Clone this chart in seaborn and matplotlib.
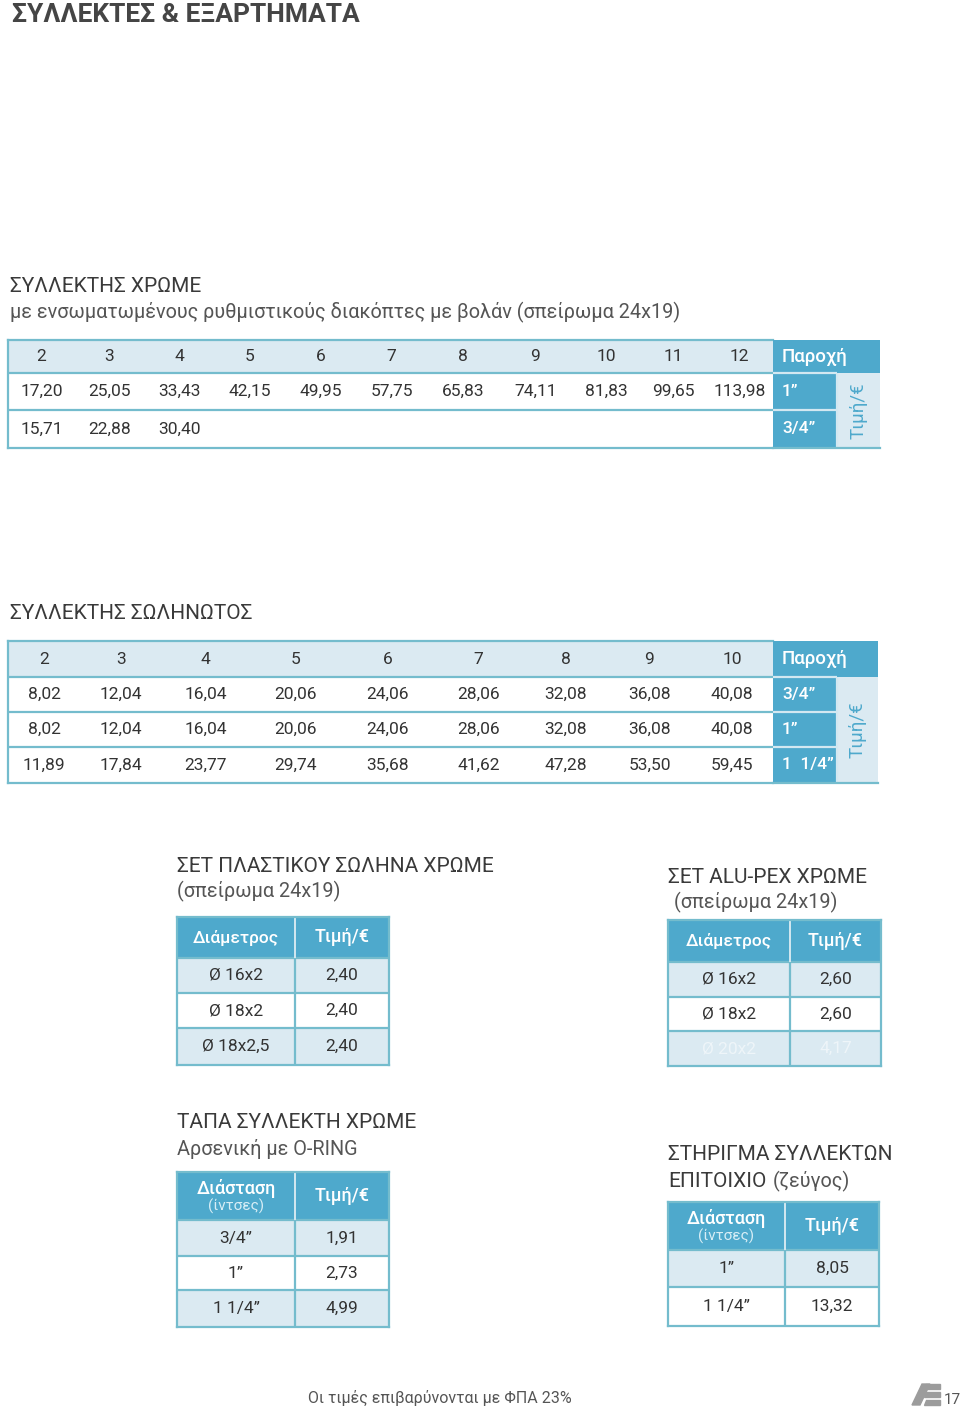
import numpy as np
import matplotlib
matplotlib.use("Agg")
import matplotlib.pyplot as plt
from matplotlib.colors import ListedColormap
from matplotlib.patches import Polygon
import seaborn as sns

# ---- values ----
chrome_ways = ["2", "3", "4", "5", "6", "7", "8", "9", "10", "11", "12"]
chrome_sizes = ["1”", "3/4”"]
chrome_price_1 = [17.20, 25.05, 33.43, 42.15, 49.95, 57.75, 65.83, 74.11, 81.83, 99.65, 113.98]
chrome_price_34 = [15.71, 22.88, 30.40]

solid_ways = ["2", "3", "4", "5", "6", "7", "8", "9", "10"]
solid_sizes = ["3/4”", "1”", "1  1/4”"]
solid_price_34 = [8.02, 12.04, 16.04, 20.06, 24.06, 28.06, 32.08, 36.08, 40.08]
solid_price_1 = [8.02, 12.04, 16.04, 20.06, 24.06, 28.06, 32.08, 36.08, 40.08]
solid_price_114 = [11.89, 17.84, 23.77, 29.74, 35.68, 41.62, 47.28, 53.50, 59.45]

plastic_diam = ["Ø 16x2", "Ø 18x2", "Ø 18x2,5"]
plastic_price = [2.40, 2.40, 2.40]

alupex_diam = ["Ø 16x2", "Ø 18x2", "Ø 20x2"]
alupex_price = [2.60, 2.60, 4.17]

cap_size = ["3/4”", "1”", "1 1/4”"]
cap_price = [1.91, 2.73, 4.99]

bracket_size = ["1”", "1 1/4”"]
bracket_price = [8.05, 13.32]

# ---- page look ----
W, H = 960, 1407
TEAL = "#74bccd"
BLUE = "#4ea9cc"
LIGHT = "#dbeaf2"
SEP = "#d3e8f1"
INK = "#333333"
TITLE = "#3a3a3a"
SUB = "#555555"
BODY = 12.5
cell_cmap = ListedColormap(["#ffffff", LIGHT, BLUE])

sns.set_style("white")
plt.rcParams["font.family"] = ["Roboto", "DejaVu Sans"]

fig = plt.figure(figsize=(W / 100, H / 100), dpi=100)

page = fig.add_axes([0, 0, 1, 1], zorder=-1)
page.set_xlim(0, W)
page.set_ylim(H, 0)
page.axis("off")


def euro(v):
    return f"{v:.2f}".replace(".", ",")


def table_ax(left, top, width, height):
    return fig.add_axes([left / W, 1 - (top + height) / H, width / W, height / H])


def paint(ax, codes, col_units, row_units):
    # cells drawn as a heatmap of colour codes (0 white, 1 light, 2 blue)
    grid = np.repeat(np.repeat(np.array(codes), row_units, axis=0), col_units, axis=1)
    sns.heatmap(grid, ax=ax, cmap=cell_cmap, vmin=-0.5, vmax=2.5, cbar=False,
                xticklabels=False, yticklabels=False)
    xs = np.concatenate([[0], np.cumsum(col_units)])
    ys = np.concatenate([[0], np.cumsum(row_units)])
    return xs, ys


def frame(ax, sides=("left", "right", "top", "bottom")):
    for name, sp in ax.spines.items():
        sp.set_visible(name in sides)
        sp.set_color(TEAL)
        sp.set_linewidth(1.6)


def price_grid(left, top, col_px, row_px, ways, price_rows):
    ax = table_ax(left, top, sum(col_px), sum(row_px))
    n = len(ways)
    codes = [[1] * n] + [[0] * n for _ in price_rows]
    xs, ys = paint(ax, codes, col_px, row_px)
    rows = [ways] + [[euro(v) for v in r] for r in price_rows]
    for i, row in enumerate(rows):
        yc = (ys[i] + ys[i + 1]) / 2
        for j, s in enumerate(row):
            ax.text((xs[j] + xs[j + 1]) / 2, yc, s, ha="center", va="center",
                    fontsize=BODY, color=INK)
    ax.hlines(ys[1:-1], 0, xs[-1], color=TEAL, lw=1.6)
    frame(ax, ("left", "top", "bottom"))


def supply_block(left, top, col_px, row_px, sizes):
    ax = table_ax(left, top, sum(col_px), sum(row_px))
    codes = [[2, 2]] + [[2, 1] for _ in sizes]
    xs, ys = paint(ax, codes, col_px, row_px)
    ax.hlines(ys[1:-1], 0, xs[1], color=SEP, lw=1.6)
    ax.vlines(xs[1], ys[1], ys[-1], color=SEP, lw=1.6)
    ax.text(9, ys[1] / 2, "Παροχή", ha="left", va="center", fontsize=13.5,
            color="white", fontweight="medium")
    for i, s in enumerate(sizes):
        ax.text(9, (ys[i + 1] + ys[i + 2]) / 2, s, ha="left", va="center", fontsize=12.5,
                color="white", fontweight="medium")
    ax.text((xs[1] + xs[2]) / 2, (ys[1] + ys[-1]) / 2, "Τιμή/€", rotation=90,
            ha="center", va="center", fontsize=13.5, color=BLUE)
    frame(ax, ("bottom",))


def small_table(left, top, col_px, row_px, head, sub, items, prices, faded_last=False):
    ax = table_ax(left, top, sum(col_px), sum(row_px))
    codes = [[2, 2]] + [[1, 1] if i % 2 == 0 else [0, 0] for i in range(len(items))]
    xs, ys = paint(ax, codes, col_px, row_px)
    ax.hlines(ys[1:-1], 0, xs[-1], color=TEAL, lw=1.6)
    ax.vlines(xs[1], ys[1], ys[-1], color=TEAL, lw=1.6)
    ax.vlines(xs[1], 0, ys[1], color=SEP, lw=1.4)
    cx = [(xs[0] + xs[1]) / 2, (xs[1] + xs[2]) / 2]
    hy = ys[1]
    if sub:
        ax.text(cx[0], hy * 0.34, head, ha="center", va="center", fontsize=13,
                color="white", fontweight="medium")
        ax.text(cx[0], hy * 0.72, sub, ha="center", va="center", fontsize=11,
                color="#d8eef6")
    else:
        ax.text(cx[0], hy * 0.5, head, ha="center", va="center", fontsize=12.5,
                color="white", fontweight="medium")
    ax.text(cx[1], hy * 0.5, "Τιμή/€", ha="center", va="center", fontsize=13,
            color="white", fontweight="medium")
    for i, (a, p) in enumerate(zip(items, prices)):
        col = INK
        if faded_last and i == len(items) - 1:
            col = "#eef5f9"
        y = (ys[i + 1] + ys[i + 2]) / 2
        ax.text(cx[0], y, a, ha="center", va="center", fontsize=BODY, color=col)
        ax.text(cx[1], y, euro(p), ha="center", va="center", fontsize=BODY, color=col)
    frame(ax)


# ---- page title ----
page.text(12, 22, "ΣΥΛΛΕΚΤΕΣ & ΕΞΑΡΤΗΜΑΤΑ", fontsize=19, fontweight="bold",
          color="#454545", va="baseline")

# ---- collector chrome ----
page.text(10, 292, "ΣΥΛΛΕΚΤΗΣ ΧΡΩΜΕ", fontsize=15, color=TITLE, va="baseline")
page.text(10, 318, "με ενσωματωμένους ρυθμιστικούς διακόπτες με βολάν (σπείρωμα 24x19)",
          fontsize=14.3, color=SUB, va="baseline")
chrome_cols_px = [67, 69, 71, 70, 71, 71, 72, 73, 69, 65, 67]
chrome_rows_px = [33, 37, 38]
price_grid(8, 340, chrome_cols_px, chrome_rows_px, chrome_ways,
           [chrome_price_1, chrome_price_34])
supply_block(773, 340, [64, 43], chrome_rows_px, chrome_sizes)

# ---- solid collector ----
page.text(10, 619, "ΣΥΛΛΕΚΤΗΣ ΣΩΛΗΝΩΤΟΣ", fontsize=15, color=TITLE, va="baseline")
solid_cols_px = [72, 82, 87, 93, 92, 89, 85, 83, 82]
solid_rows_px = [36, 35, 35, 36]
price_grid(8, 641, solid_cols_px, solid_rows_px, solid_ways,
           [solid_price_34, solid_price_1, solid_price_114])
supply_block(773, 641, [64, 41], solid_rows_px, solid_sizes)

# ---- plastic pipe set ----
page.text(177, 872, "ΣΕΤ ΠΛΑΣΤΙΚΟΥ ΣΩΛΗΝΑ ΧΡΩΜΕ", fontsize=15, color=TITLE, va="baseline")
page.text(177, 897, "(σπείρωμα 24x19)", fontsize=14.3, color=SUB, va="baseline")
small_table(177, 917, [118, 94], [41, 35, 35, 37], "Διάμετρος", None,
            plastic_diam, plastic_price)

# ---- alu-pex set ----
page.text(668, 883, "ΣΕΤ ALU-PEX ΧΡΩΜΕ", fontsize=15, color=TITLE, va="baseline")
page.text(674, 908, "(σπείρωμα 24x19)", fontsize=14.3, color=SUB, va="baseline")
small_table(668, 920, [122, 91], [42, 35, 34, 35], "Διάμετρος", None,
            alupex_diam, alupex_price, faded_last=True)

# ---- collector cap ----
page.text(177, 1128, "ΤΑΠΑ ΣΥΛΛΕΚΤΗ ΧΡΩΜΕ", fontsize=15, color=TITLE, va="baseline")
page.text(177, 1155, "Αρσενική με O-RING", fontsize=14.3, color=SUB, va="baseline")
small_table(177, 1172, [118, 94], [48, 36, 34, 37], "Διάσταση", "(ίντσες)",
            cap_size, cap_price)

# ---- wall bracket ----
page.text(668, 1160, "ΣΤΗΡΙΓΜΑ ΣΥΛΛΕΚΤΩΝ", fontsize=15, color=TITLE, va="baseline")
lead = page.text(668, 1187, "ΕΠΙΤΟΙΧΙΟ", fontsize=15, color=TITLE, va="baseline")
lead_end = lead.get_window_extent(renderer=fig.canvas.get_renderer()).x1
page.text(lead_end + 6, 1187, "(ζεύγος)", fontsize=14.3, color=SUB, va="baseline")
small_table(668, 1202, [117, 94], [48, 37, 39], "Διάσταση", "(ίντσες)",
            bracket_size, bracket_price)

# ---- footer ----
page.text(440, 1403, "Οι τιμές επιβαρύνονται με ΦΠΑ 23%", fontsize=11.5, color=SUB,
          ha="center", va="baseline")
page.add_patch(Polygon([(912, 1405), (922, 1384), (930, 1384), (920, 1405)],
                       closed=True, color="#9c9c9c"))
for y0 in (1384, 1392, 1400):
    page.add_patch(Polygon([(926, y0), (940, y0), (940, y0 + 5), (924, y0 + 5)],
                           closed=True, color="#9c9c9c"))
page.text(944, 1404, "17", fontsize=11, color=SUB, va="baseline")

fig.savefig("out.png", dpi=100)
